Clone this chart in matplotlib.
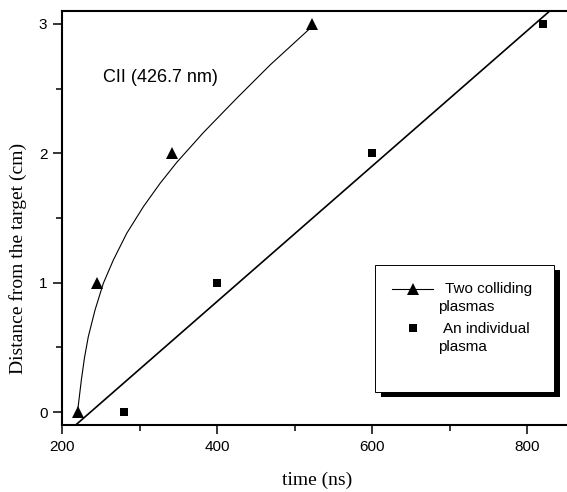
import matplotlib.pyplot as plt
import numpy as np
from matplotlib.patches import Rectangle
from matplotlib.lines import Line2D

# CII (426.7 nm) emission front position vs time

# two colliding plasmas (triangles)
t_colliding = [220, 245, 342, 522]
d_colliding = [0, 1, 2, 3]

# smooth curve through the colliding plasma points
curve_t = [220, 225, 229, 233.9, 242.6, 253.3, 266.2, 283.5, 304.9,
           326.5, 348, 382.3, 425.4, 468.4, 517.8, 522]
curve_d = [0, 0.25, 0.42, 0.582, 0.789, 0.995, 1.175, 1.382, 1.587,
           1.768, 1.93, 2.16, 2.426, 2.683, 2.954, 3.0]

# an individual plasma (squares)
t_single = [280, 400, 600, 820]
d_single = [0, 1, 2, 3]

# straight line fit for the individual plasma (end points)
fit_t = [219, 829]
fit_d = [-0.093, 3.1]

xticks = [200, 400, 600, 800]
xminor = [300, 500, 700]
yticks = [0, 1, 2, 3]
yminor = [0.5, 1.5, 2.5]

W, H = 567, 492
sans = 'Liberation Sans'
serif = 'Liberation Serif'

def fx(px):
    return px / W

def fy(py):
    # py counted from the top of the image
    return 1 - py / H

fig = plt.figure(figsize=(W / 100, H / 100), dpi=100)
ax = fig.add_axes([fx(62), fy(425), (573 - 62) / W, (425 - 11) / H])

ax.plot(curve_t, curve_d, color='k', lw=0.8)
ax.plot(t_colliding, d_colliding, ls='none', marker='^', ms=8, mew=0, color='k')
ax.plot(fit_t, fit_d, color='k', lw=1.2)
ax.plot(t_single, d_single, ls='none', marker='s', ms=6, mew=0, color='k')

ax.set_xlim(200, 859)
ax.set_ylim(-0.1, 3.1)
ax.set_xticks(xticks)
ax.set_xticks(xminor, minor=True)
ax.set_yticks(yticks)
ax.set_yticks(yminor, minor=True)
ax.tick_params(which='both', direction='out', width=1.1, top=False, right=False)
ax.tick_params(which='major', length=6.5, pad=4, labelsize=11)
ax.tick_params(which='minor', length=4)
for lab in ax.get_xticklabels() + ax.get_yticklabels():
    lab.set_fontfamily(sans)
for s in ax.spines.values():
    s.set_linewidth(1.5)

fig.text(fx(102.7), fy(81.5), 'CII (426.7 nm)', family=sans, fontsize=13, va='baseline')
fig.text(fx(317), fy(485), 'time (ns)', family=serif, fontsize=14, ha='center', va='baseline')
fig.text(fx(18), fy(258), 'Distance from the target (cm)', family=serif, fontsize=14,
         rotation=90, ha='center', va='center')

# legend box with black drop shadow
fig.add_artist(Rectangle((fx(381), fy(397)), (559.5 - 381) / W, (397 - 270) / H,
                         transform=fig.transFigure, facecolor='k', edgecolor='none'))
fig.add_artist(Rectangle((fx(375), fy(392)), (553.5 - 375) / W, (392 - 265) / H,
                         transform=fig.transFigure, facecolor='white', edgecolor='k', lw=0.7))
fig.add_artist(Line2D([fx(392), fx(433)], [fy(289), fy(289)], transform=fig.transFigure,
                      color='k', lw=0.8))
fig.add_artist(Line2D([fx(412.5)], [fy(289)], transform=fig.transFigure, ls='none',
                      marker='^', ms=8, mew=0, color='k'))
fig.add_artist(Line2D([fx(413)], [fy(328)], transform=fig.transFigure, ls='none',
                      marker='s', ms=6, mew=0, color='k'))
fig.text(fx(445), fy(293.3), 'Two colliding', family=sans, fontsize=11, va='baseline')
fig.text(fx(438), fy(311.5), 'plasmas', family=sans, fontsize=11, va='baseline')
fig.text(fx(443), fy(333.3), 'An individual', family=sans, fontsize=11, va='baseline')
fig.text(fx(438), fy(351.5), 'plasma', family=sans, fontsize=11, va='baseline')

fig.savefig('out.png', dpi=100)
